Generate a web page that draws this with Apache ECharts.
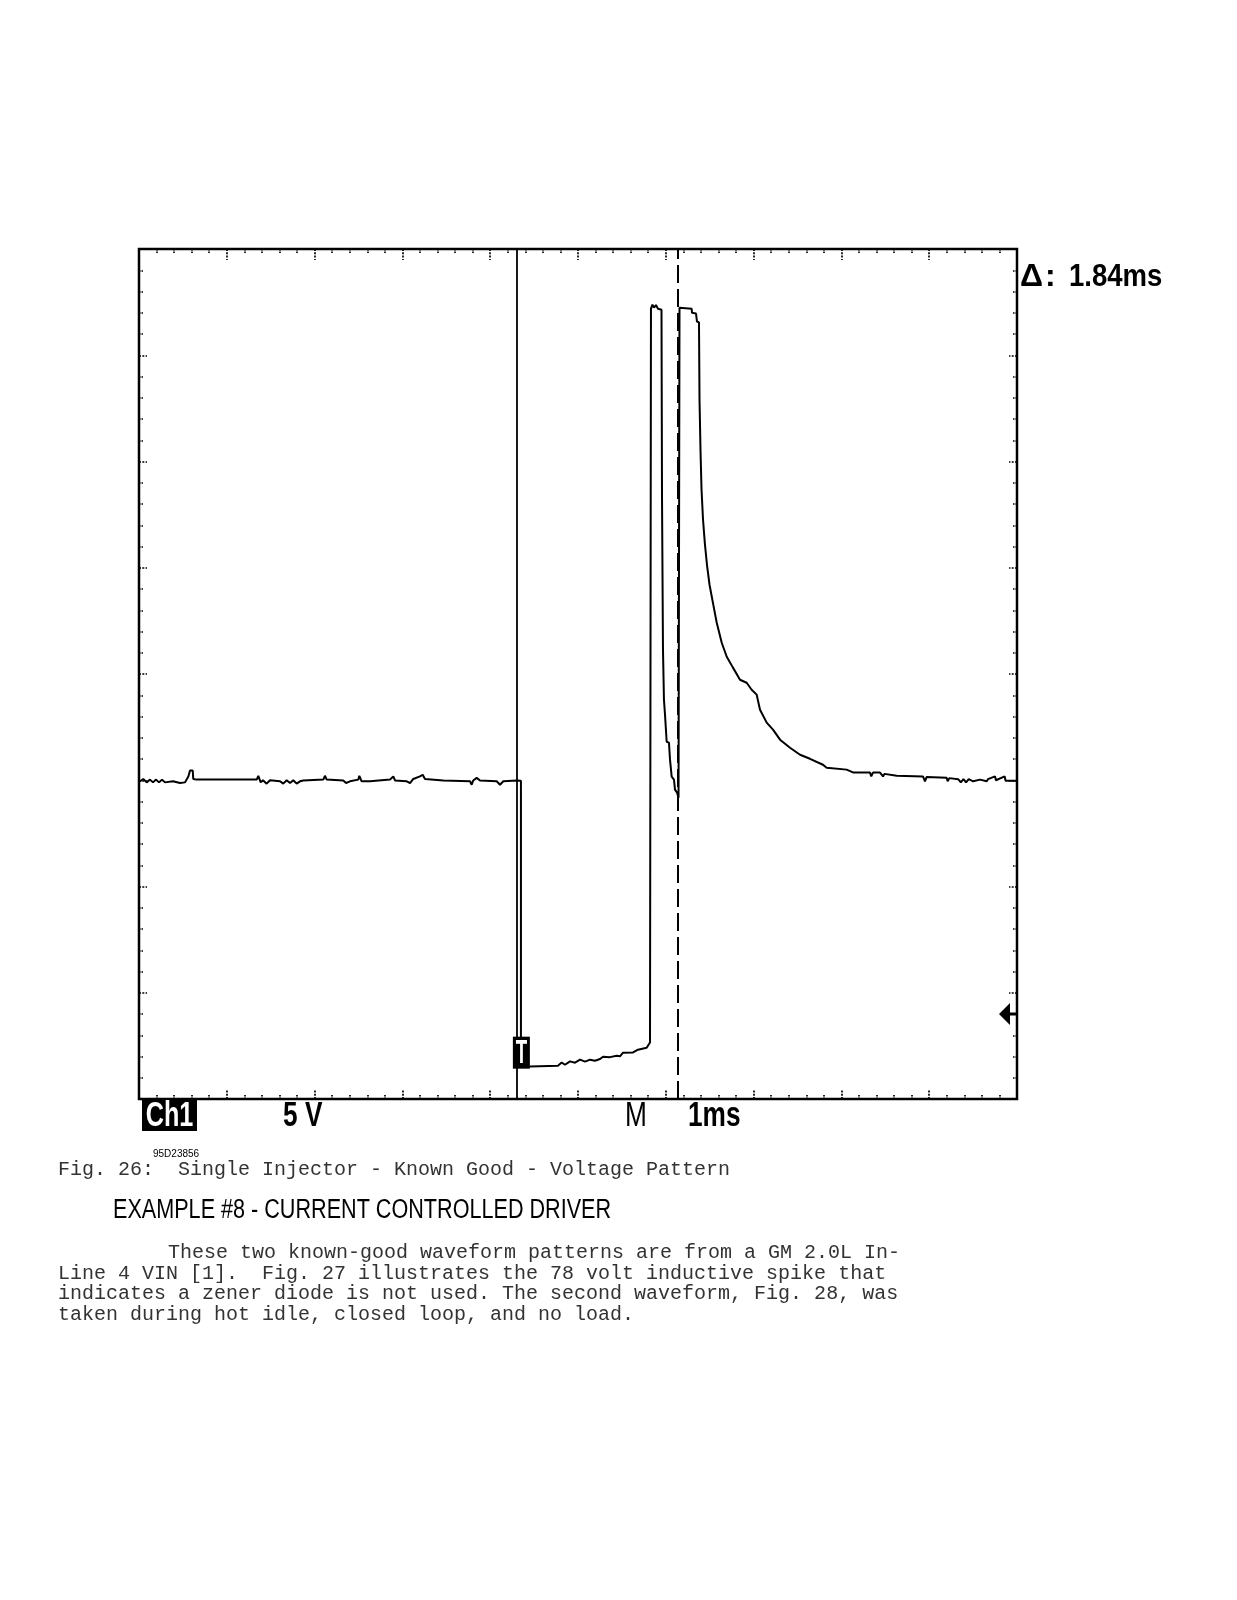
<!DOCTYPE html>
<html><head><meta charset="utf-8">
<script src="https://cdn.jsdelivr.net/npm/echarts@6/dist/echarts.min.js"></script>
<style>html,body{margin:0;padding:0;background:#fff}#c{width:1237px;height:1600px}</style>
</head><body><div id="c"></div>
<script>
// ---- Data (time in ms from left edge of screen, volts) ----
const timeMs = [
  0.011,0.049,0.088,0.125,0.159,0.194,0.228,0.262,0.296,0.387,0.467,0.524,0.562,0.581,0.612,0.618,0.657,
  1.341,1.359,1.386,1.412,1.454,1.492,1.606,1.643,1.682,1.720,1.757,1.796,1.834,1.871,
  2.099,2.118,2.138,2.327,2.358,2.403,2.498,2.509,2.536,2.555,2.631,2.859,2.896,2.916,
  3.049,3.087,3.124,3.200,3.231,3.257,3.466,3.770,3.789,3.807,3.846,3.865,3.884,
  4.074,4.112,4.149,4.302,4.350,
  4.350,4.453,4.772,4.814,4.852,4.909,4.966,5.023,5.080,5.137,5.194,5.251,5.285,5.364,5.441,5.478,5.513,5.627,5.683,5.782,5.820,5.831,
  5.831,5.848,5.866,5.888,5.911,5.951,5.957,5.968,5.979,5.991,6.010,6.010,6.036,6.048,6.067,6.093,6.105,6.128,6.145,6.156,
  6.156,6.295,6.298,6.344,6.355,6.378,6.384,6.395,6.407,6.424,6.446,6.469,6.498,6.530,6.580,6.637,6.694,6.765,6.845,6.921,
  6.978,7.035,7.073,7.149,7.221,7.301,7.415,7.529,7.642,7.790,7.832,8.060,8.132,8.326,8.340,8.360,8.440,8.474,8.490,8.630,
  8.929,8.952,8.970,9.199,9.210,9.230,9.330,9.360,9.390,9.420,9.450,9.500,9.579,9.655,9.670,9.750,9.760,9.860,9.870,9.989
];
const volts = [
  10.95,11.06,10.90,11.03,10.90,11.03,10.90,11.03,10.90,10.95,10.87,10.90,11.18,11.46,11.46,11.06,11.03,
  11.03,11.21,10.90,11.00,10.84,11.00,10.95,10.84,11.00,10.87,11.00,10.84,10.95,10.99,
  11.03,11.21,11.03,10.99,10.87,10.95,11.03,11.21,10.95,10.87,10.95,11.03,11.18,10.99,
  10.95,10.87,11.06,11.18,11.26,11.06,10.99,10.95,10.79,10.99,11.11,11.18,10.99,
  10.95,10.79,10.95,10.99,10.98,
  -2.48,-2.47,-2.43,-2.28,-2.39,-2.23,-2.29,-2.15,-2.24,-2.15,-2.20,-2.12,-2.01,-2.03,-1.96,-1.99,-1.82,-1.81,-1.68,-1.59,-1.34,-1.34,
  33.19,33.38,33.24,33.36,33.19,33.14,24.20,17.14,14.79,14.08,13.99,12.81,12.77,11.97,11.17,11.03,10.56,10.42,10.18,10.18,
  33.24,33.19,33.00,32.96,32.59,32.55,28.91,26.56,24.67,23.26,22.09,21.14,20.20,19.50,18.41,17.47,16.81,16.30,15.73,15.59,
  15.26,15.03,14.32,13.71,13.38,12.91,12.53,12.20,12.01,11.73,11.59,11.50,11.37,11.36,11.18,11.36,11.36,11.18,11.30,11.21,
  11.18,10.95,11.15,11.12,10.95,11.10,11.05,10.90,11.05,10.90,11.05,10.95,11.03,10.95,11.05,11.18,11.00,11.18,10.98,10.98
];
const cursorA = 4.30;          // ms, solid cursor
const cursorB = 6.14;          // ms, dashed cursor
const deltaLabel = '1.84ms';
const groundVolts = 0;
const triggerTime = 4.355, triggerVolts = -1.82;
const xDivs = 10, yDivs = 8;
const voltMin = -4, voltMax = 36;
const ch1Label = 'Ch1', voltsLabel = '5 V', modeLabel = 'M', timeLabel = '1ms';
const figId = '95D23856';
const figCaption = 'Fig. 26:  Single Injector - Known Good - Voltage Pattern';
const heading = 'EXAMPLE #8 - CURRENT CONTROLLED DRIVER';
const paragraph = [
  'These two known-good waveform patterns are from a GM 2.0L In-',
  'Line 4 VIN [1].  Fig. 27 illustrates the 78 volt inductive spike that',
  'indicates a zener diode is not used. The second waveform, Fig. 28, was',
  'taken during hot idle, closed loop, and no load.'
];

const chart = echarts.init(document.getElementById('c'), null, {renderer: 'canvas', width: 1237, height: 1600});

function tickAxis(pos, max, majorLen) {
  return {
    type: 'value', min: 0, max: max, interval: 1, position: pos,
    axisLine: {show: false, onZero: false}, axisLabel: {show: false}, splitLine: {show: false},
    axisTick: {show: true, inside: true, length: majorLen, lineStyle: {color: '#000', width: 1.7, type: [2, 1.3]}},
    minorTick: {show: true, splitNumber: 5, length: 4, lineStyle: {color: '#000', width: 1.7, type: [1.5, 1]}},
    minorSplitLine: {show: false}
  };
}

const data = timeMs.map((t, i) => [t, volts[i]]);

const option = {
  animation: false,
  backgroundColor: '#fff',
  grid: {left: 139, right: 220, top: 249, bottom: 501, show: true, borderColor: '#000', borderWidth: 2.5,
         backgroundColor: 'transparent', containLabel: false, outerBoundsMode: 'none'},
  xAxis: [tickAxis('bottom', xDivs, 10), tickAxis('top', xDivs, 11)],
  yAxis: [
    {type: 'value', min: voltMin, max: voltMax, show: false, axisLine: {onZero: false}},
    tickAxis('left', yDivs, 8),
    tickAxis('right', yDivs, 8)
  ],
  series: [{
    type: 'line', xAxisIndex: 0, yAxisIndex: 0, data: data,
    symbol: 'none', showSymbol: false, smooth: false,
    lineStyle: {color: '#000', width: 2}, itemStyle: {color: '#000'},
    emphasis: {disabled: true}, z: 5,
    markLine: {
      silent: true, symbol: ['none', 'none'], label: {show: false},
      lineStyle: {color: '#000', width: 1.8, type: 'solid'},
      emphasis: {disabled: true},
      data: [
        {xAxis: cursorA},
        {xAxis: cursorB, lineStyle: {type: [18, 6], width: 2, color: '#000'}}
      ]
    }
  }]
};
chart.setOption(option);

const gnd = chart.convertToPixel({xAxisIndex: 0, yAxisIndex: 0}, [xDivs, groundVolts]);
const trg = chart.convertToPixel({xAxisIndex: 0, yAxisIndex: 0}, [triggerTime, triggerVolts]);

function txt(x, y, text, font, opts) {
  opts = opts || {};
  return {
    type: 'text', x: x, y: y, z: 100, scaleX: opts.scaleX || 1, silent: true,
    style: {text: text, font: font, fill: opts.fill || '#000',
            textAlign: opts.align || 'left', align: opts.align || 'left',
            textVerticalAlign: 'middle', verticalAlign: 'middle'}
  };
}
const gx = gnd[0], gy = gnd[1];
const graphics = [
  // ground reference arrow
  {type: 'polygon', z: 100, silent: true,
   shape: {points: [[gx - 18, gy], [gx - 7, gy - 11], [gx - 7, gy - 1.5], [gx, gy - 1.5], [gx, gy + 1.5], [gx - 7, gy + 1.5], [gx - 7, gy + 11]]},
   style: {fill: '#000'}},
  // trigger marker
  {type: 'rect', z: 100, silent: true, shape: {x: trg[0] - 8.5, y: trg[1] - 16, width: 17, height: 32}, style: {fill: '#000'}},
  txt(trg[0], trg[1] + 1, 'T', 'bold 34px "Liberation Sans", Arial, sans-serif', {fill: '#fff', align: 'center', scaleX: 0.55}),
  // delta readout
  txt(1020, 277, 'Δ', 'bold 32px "Liberation Sans", Arial, sans-serif'),
  txt(1045, 277, ':', 'bold 32px "Liberation Sans", Arial, sans-serif'),
  txt(1069, 277, deltaLabel, 'bold 32px "Liberation Sans", Arial, sans-serif', {scaleX: 0.86}),
  // bottom status line
  {type: 'rect', z: 100, silent: true, shape: {x: 142, y: 1100, width: 55, height: 31}, style: {fill: '#000'}},
  txt(169.5, 1116, ch1Label, 'bold 35px "Liberation Sans", Arial, sans-serif', {fill: '#fff', align: 'center', scaleX: 0.72}),
  txt(283, 1116, voltsLabel, 'bold 35px "Liberation Sans", Arial, sans-serif', {scaleX: 0.75}),
  txt(625, 1116, modeLabel, '35px "Liberation Sans", Arial, sans-serif', {scaleX: 0.75}),
  txt(688, 1116, timeLabel, 'bold 35px "Liberation Sans", Arial, sans-serif', {scaleX: 0.75}),
  // captions
  txt(153, 1154, figId, '10px "Liberation Sans", Arial, sans-serif'),
  txt(58, 1170, figCaption, '20px "Liberation Mono", "Courier New", monospace', {fill: '#333'}),
  txt(113, 1211, heading, '27px "Liberation Sans", Arial, sans-serif', {scaleX: 0.80}),
  txt(168, 1253, paragraph[0], '20px "Liberation Mono", "Courier New", monospace', {fill: '#333'}),
  txt(58, 1274, paragraph[1], '20px "Liberation Mono", "Courier New", monospace', {fill: '#333'}),
  txt(58, 1294, paragraph[2], '20px "Liberation Mono", "Courier New", monospace', {fill: '#333'}),
  txt(58, 1315, paragraph[3], '20px "Liberation Mono", "Courier New", monospace', {fill: '#333'})
];
chart.setOption({graphic: graphics});
</script>
</body></html>
